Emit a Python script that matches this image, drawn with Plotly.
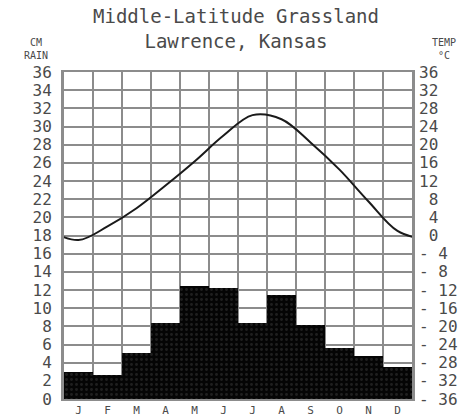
import plotly.graph_objects as go

months = ["J", "F", "M", "A", "M", "J", "J", "A", "S", "O", "N", "D"]
rain_cm = [3.0, 2.6, 5.1, 8.4, 12.4, 12.2, 8.4, 11.5, 8.2, 5.6, 4.7, 3.5]
temp_c = [-1.0, 2.0, 6.0, 11.0, 16.3, 22.0, 26.5, 25.6, 20.5, 14.5, 7.5, 1.0]

rain_ticks = [0, 2, 4, 6, 8, 10, 12, 14, 16, 18, 20, 22, 24, 26, 28, 30, 32, 34, 36]
temp_ticks = [-36, -32, -28, -24, -20, -16, -12, -8, -4, 0, 4, 8, 12, 16, 20, 24, 28, 32, 36]
temp_tick_text = [("- " + str(-t)) if t < 0 else (" " + str(t) if t < 10 else str(t))
                  for t in temp_ticks]

FONT = "DejaVu Sans Mono"
TXT = "#4a4a4a"
GRID = "#8c8c8c"

W, H = 472, 417
ML, MR, MT, MB = 64, 60, 72, 18

xs = list(range(len(months)))
# cyclic wrap so the yearly temperature curve reaches both edges
line_x = [-1] + xs + [len(months)]
line_y = [temp_c[-1]] + temp_c + [temp_c[0]]

fig = go.Figure()
fig.add_trace(go.Bar(
    x=xs, y=rain_cm, yaxis="y",
    marker=dict(color="#050505", line=dict(width=0),
                pattern=dict(shape=".", bgcolor="#050505", fgcolor="#3a3a3a",
                             size=5, solidity=0.25)),
    showlegend=False,
))
fig.add_trace(go.Scatter(
    x=line_x, y=line_y, yaxis="y2", mode="lines",
    line=dict(color="#1a1a1a", width=2, shape="spline", smoothing=1.0),
    showlegend=False,
))

fig.update_layout(
    width=W, height=H,
    margin=dict(l=ML, r=MR, t=MT, b=MB, autoexpand=False),
    paper_bgcolor="white", plot_bgcolor="white",
    bargap=0,
    font=dict(family=FONT, color=TXT),
    xaxis=dict(
        range=[-0.5, len(months) - 0.5],
        tickmode="array", tickvals=xs, ticktext=months,
        tickfont=dict(size=11, color=TXT),
        showgrid=False, zeroline=False, ticks="", automargin=False,
        ticklabelstandoff=0,
        showline=True, mirror=True, linecolor=GRID, linewidth=2,
        minor=dict(tickmode="linear", tick0=-0.5, dtick=1, showgrid=True,
                   gridcolor=GRID, gridwidth=2, ticks=""),
    ),
    yaxis=dict(
        range=[0, 36], tickmode="array", tickvals=rain_ticks,
        ticktext=[str(t) for t in rain_ticks],
        tickfont=dict(size=16, color=TXT), automargin=False,
        ticklabelstandoff=6,
        showgrid=True, gridcolor=GRID, gridwidth=2, zeroline=False,
        showline=True, mirror=True, linecolor=GRID, linewidth=3, ticks="",
    ),
    yaxis2=dict(
        range=[-36, 36], overlaying="y", side="right",
        tickmode="array", tickvals=temp_ticks, ticktext=temp_tick_text,
        tickfont=dict(size=16, color=TXT), automargin=False,
        ticklabelstandoff=6,
        showgrid=False, zeroline=False, ticks="",
    ),
)

ph = H - MT - MB
pw = W - ML - MR
def py(ypix):
    return (H - MB - ypix) / ph
def px(xpix):
    return (xpix - ML) / pw

heads = [
    ("Middle-Latitude Grassland<br>Lawrence, Kansas", 236, 28, 19),
    ("CM<br>RAIN", 36, 49, 10),
    ("TEMP<br>°C", 444, 49, 10),
]
for text, xp, yp, sz in heads:
    fig.add_annotation(text=text, x=px(xp), y=py(yp), xref="paper", yref="paper",
                       xanchor="center", yanchor="middle", showarrow=False,
                       align="center",
                       font=dict(size=sz, color=TXT, family=FONT))

fig.write_html("out.html", config={"displayModeBar": False},
               post_script="document.body.style.margin='0';document.body.style.overflow='hidden';")
